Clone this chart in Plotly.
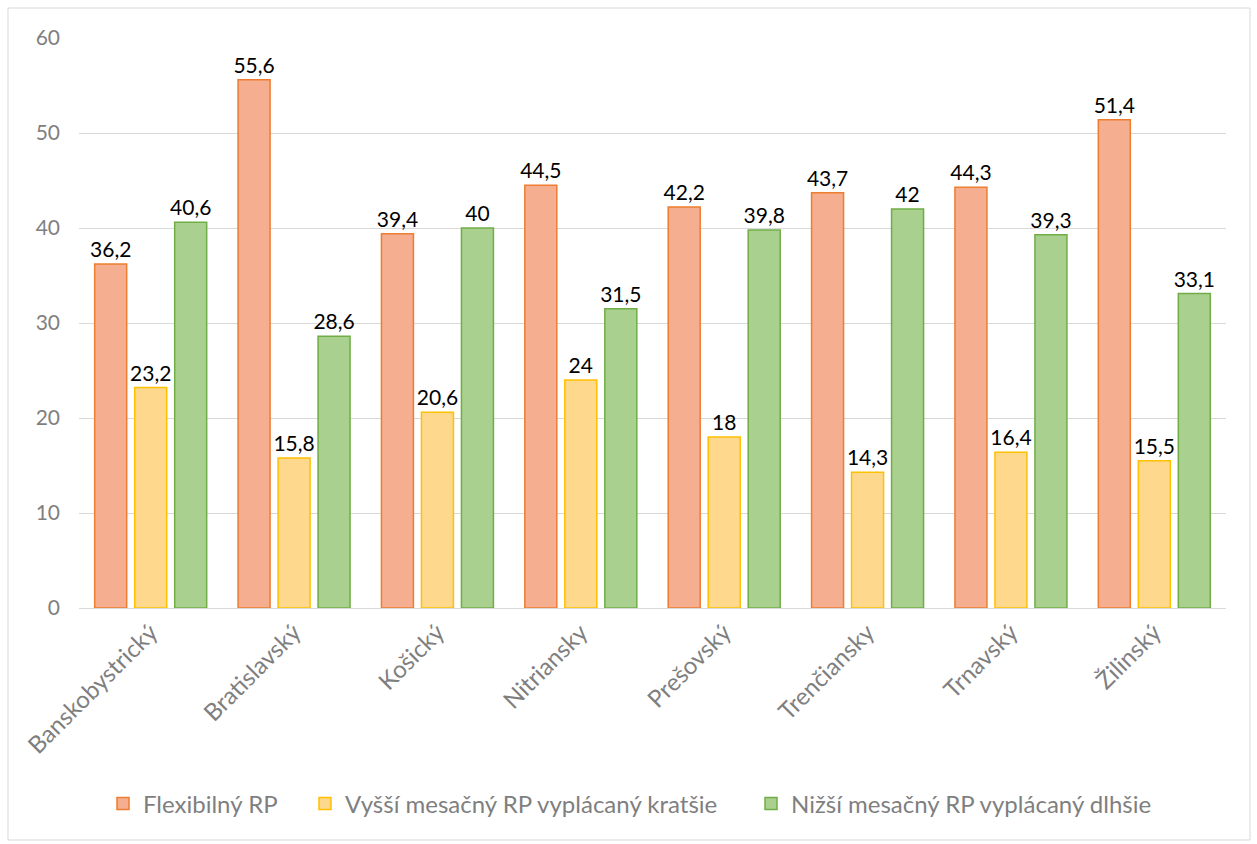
import plotly.graph_objects as go

categories = ["Banskobystrický", "Bratislavský", "Košický", "Nitriansky",
              "Prešovský", "Trenčiansky", "Trnavský", "Žilinský"]
flexibilny = [36.2, 55.6, 39.4, 44.5, 42.2, 43.7, 44.3, 51.4]
vyssi = [23.2, 15.8, 20.6, 24, 18, 14.3, 16.4, 15.5]
nizsi = [40.6, 28.6, 40, 31.5, 39.8, 42, 39.3, 33.1]

series = [
    ("Flexibilný RP", flexibilny, "#F5AE8F", "#ED7D31", "legend"),
    ("Vyšší mesačný RP vyplácaný kratšie", vyssi, "#FED88C", "#FFC000", "legend2"),
    ("Nižší mesačný RP vyplácaný dlhšie", nizsi, "#A9D08E", "#70AD47", "legend3"),
]

FONT = "Lato"

def fmt(v):
    s = f"{v:g}"
    return s.replace(".", ",")

fig = go.Figure()
for name, vals, fill, line, leg in series:
    fig.add_trace(go.Bar(
        name=name, x=categories, y=vals, legend=leg, showlegend=True,
        marker=dict(color=fill, line=dict(color=line, width=1.5)),
        text=[fmt(v) for v in vals], textposition="outside",
        constraintext="none",
        textfont=dict(color="#000000", size=21, family=FONT),
        cliponaxis=False,
    ))

def leg(xpx):
    return dict(orientation="h", xref="container", yref="container",
                x=xpx / 1257, xanchor="left", y=1 - 804 / 844, yanchor="middle",
                font=dict(size=24, color="#7F7F7F", family=FONT),
                bgcolor="rgba(0,0,0,0)", visible=True)

fig.update_layout(
    width=1257, height=844, showlegend=True,
    paper_bgcolor="white", plot_bgcolor="white",
    barmode="group", bargap=0.163, bargroupgap=0.2,
    margin=dict(l=79, r=31, t=38, b=236),
    font=dict(family=FONT, color="#7F7F7F", size=21),
    legend=leg(103), legend2=leg(305), legend3=leg(751),
    shapes=[dict(type="rect", xref="paper", yref="paper", x0=-0.0619, x1=1.0209,
                 y0=-0.407, y1=1.0526, line=dict(color="#D9D9D9", width=1))],
)
fig.update_yaxes(range=[0, 60], dtick=10, showgrid=True, gridcolor="#D9D9D9",
                 gridwidth=1, zeroline=True, zerolinecolor="#D9D9D9", zerolinewidth=1,
                 tickfont=dict(size=21, color="#7F7F7F", family=FONT), ticks="",
                 ticklabelstandoff=18)
fig.update_xaxes(tickangle=-45, showline=True, linecolor="#D9D9D9",
                 tickfont=dict(size=24, color="#7F7F7F", family=FONT))

fig.write_html("out.html", config={"displayModeBar": False},
               post_script="document.body.style.margin='0';")
